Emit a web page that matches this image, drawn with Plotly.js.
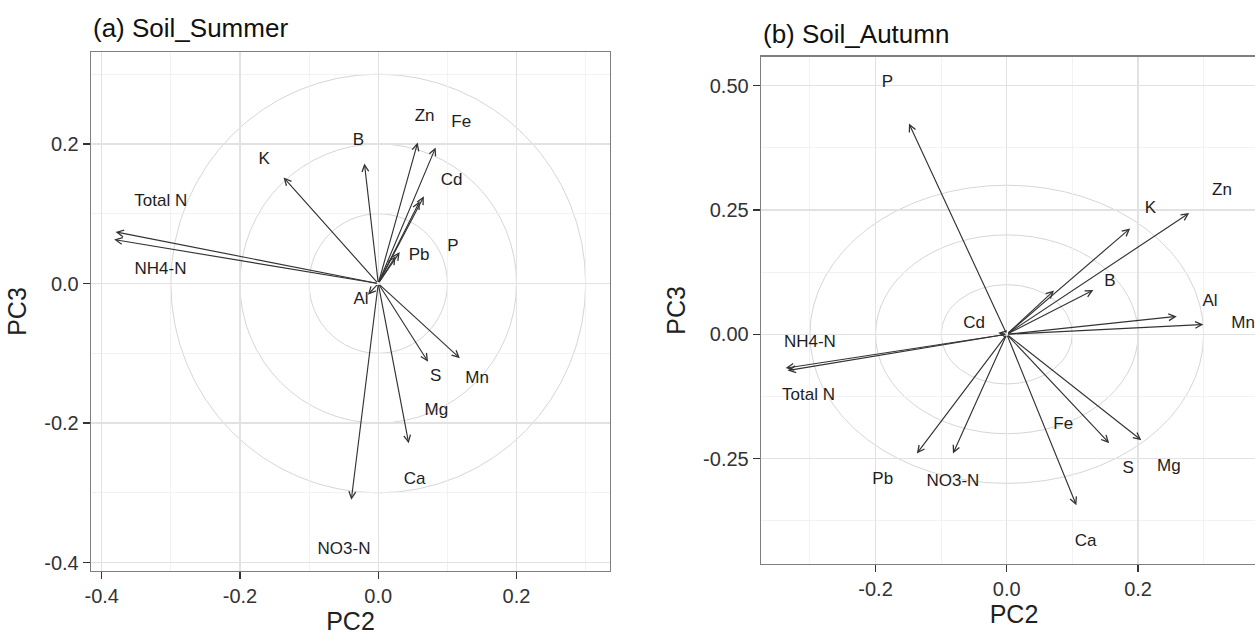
<!DOCTYPE html>
<html><head><meta charset="utf-8">
<script src="https://cdn.plot.ly/plotly-3.0.1.min.js"></script>
<style>html,body{margin:0;padding:0;overflow:hidden;background:#fff}#chart{width:1280px;height:636px}</style>
</head><body><div id="chart"></div>
<script>
// ---------- Panel (a) Soil_Summer ----------
const varsA  = ['Total N','NH4-N','K','B','Zn','Fe','Cd','P','Pb','Mg','Al','S','Mn','Ca','NO3-N'];
const pc2A   = [-0.380,-0.382,-0.137,-0.020,0.057,0.083,0.066,0.060,0.031,0.025,-0.015,0.072,0.118,0.044,-0.039];
const pc3A   = [0.074,0.063,0.152,0.172,0.202,0.195,0.125,0.118,0.045,0.039,-0.016,-0.112,-0.107,-0.229,-0.310];
const labXA  = [-0.3145,-0.315,-0.165,-0.0286,0.067,0.120,0.106,0.108,0.059,0.084,-0.025,0.083,0.143,0.0526,-0.0496];
const labYA  = [0.1175,0.0196,0.177,0.205,0.239,0.230,0.147,0.053,0.040,-0.183,-0.023,-0.133,-0.1365,-0.281,-0.3815];
const tickXA = [-0.4,-0.2,0,0.2];      const tickXAText = ['-0.4','-0.2','0.0','0.2'];
const tickYA = [-0.4,-0.2,0,0.2];      const tickYAText = ['-0.4','-0.2','0.0','0.2'];
const minorXA = [-0.3,-0.1,0.1,0.3];   const minorYA = [-0.3,-0.1,0.1,0.3];

// ---------- Panel (b) Soil_Autumn ----------
const varsB  = ['P','K','Zn','B','Fe','Al','Mn','NH4-N','Total N','Cd','Pb','NO3-N','Ca','S','Mg'];
const pc2B   = [-0.149,0.188,0.278,0.132,0.072,0.259,0.2995,-0.337,-0.334,-0.013,-0.137,-0.082,0.106,0.156,0.205];
const pc3B   = [0.424,0.213,0.244,0.089,0.088,0.036,0.0197,-0.068,-0.073,0.003,-0.240,-0.240,-0.344,-0.219,-0.213];
const labXB  = [-0.182,0.219,0.328,0.157,0.086,0.3097,0.360,-0.300,-0.302,-0.0498,-0.189,-0.082,0.120,0.185,0.247];
const labYB  = [0.507,0.252,0.288,0.106,-0.183,0.0647,0.0213,-0.018,-0.124,0.022,-0.2936,-0.297,-0.418,-0.2705,-0.266];
const tickXB = [-0.2,0,0.2];            const tickXBText = ['-0.2','0.0','0.2'];
const tickYB = [-0.25,0,0.25,0.5];      const tickYBText = ['-0.25','0.00','0.25','0.50'];
const minorXB = [-0.3,-0.1,0.1,0.3];    const minorYB = [-0.375,-0.125,0.125,0.375];

const ringRadii = [0.1,0.2,0.3];
const titles = ['(a) Soil_Summer','(b) Soil_Autumn'];

const FONT = '"Liberation Sans", Arial, sans-serif';
const W = 1280, H = 636;

function axis(domain, range, tv, tt, mv, titleText, standoff, anchor){
  return {
    domain: domain, range: range, anchor: anchor,
    tickmode: 'array', tickvals: tv, ticktext: tt,
    ticks: 'outside', ticklen: 7, tickwidth: 1.3, tickcolor: '#333',
    tickfont: {family: FONT, size: 20, color: '#333'},
    showline: true, linecolor: '#7f7f7f', linewidth: 1.3, mirror: true,
    showgrid: true, gridcolor: '#e2e2e2', gridwidth: 1.2,
    minor: {tickmode: 'array', tickvals: mv, showgrid: true, gridcolor: '#efefef', gridwidth: 0.8, ticks: ''},
    zeroline: false, fixedrange: true,
    title: {text: titleText, font: {family: FONT, size: 25, color: '#222'}, standoff: standoff}
  };
}

const traces = [
  {x: labXA, y: labYA, text: varsA, mode: 'text', type: 'scatter', xaxis: 'x', yaxis: 'y',
   textfont: {family: FONT, size: 17, color: '#1e1e1e'}, cliponaxis: false, hoverinfo: 'skip', showlegend: false},
  {x: labXB, y: labYB, text: varsB, mode: 'text', type: 'scatter', xaxis: 'x2', yaxis: 'y2',
   textfont: {family: FONT, size: 17, color: '#1e1e1e'}, cliponaxis: false, hoverinfo: 'skip', showlegend: false}
];

const annotations = [];
function arrows(px, py, xr, yr){
  for (let i = 0; i < px.length; i++){
    annotations.push({x: px[i], y: py[i], ax: 0, ay: 0, xref: xr, yref: yr, axref: xr, ayref: yr,
      text: '', showarrow: true, arrowhead: 5, arrowsize: 1.15, arrowwidth: 1.15, arrowcolor: '#333'});
  }
}
arrows(pc2A, pc3A, 'x', 'y');
arrows(pc2B, pc3B, 'x2', 'y2');

annotations.push({text: titles[0], xref: 'paper', yref: 'paper', x: 91/W, y: 1 - 28/H, xanchor: 'left', yanchor: 'middle',
  showarrow: false, font: {family: FONT, size: 26, color: '#111'}});
annotations.push({text: titles[1], xref: 'paper', yref: 'paper', x: 761/W, y: 1 - 34/H, xanchor: 'left', yanchor: 'middle',
  showarrow: false, font: {family: FONT, size: 26, color: '#111'}});

const shapes = [];
function rings(xr, yr){
  ringRadii.forEach(r => shapes.push({type: 'circle', xref: xr, yref: yr, x0: -r, y0: -r, x1: r, y1: r,
    line: {color: '#d6d6d6', width: 1}, layer: 'below'}));
}
rings('x', 'y'); rings('x2', 'y2');

const layout = {
  width: W, height: H, margin: {l: 0, r: 0, t: 0, b: 0},
  paper_bgcolor: '#fff', plot_bgcolor: '#fff', showlegend: false,
  font: {family: FONT},
  xaxis:  axis([91/W, 610/W], [-0.4155, 0.3352], tickXA, tickXAText, minorXA, 'PC2', 6, 'y'),
  yaxis:  axis([(H-571)/H, (H-52)/H], [-0.412, 0.3318], tickYA, tickYAText, minorYA, 'PC3', 10, 'x'),
  xaxis2: axis([761/W, 1267/W], [-0.3745, 0.3965], tickXB, tickXBText, minorXB, 'PC2', 6, 'y2'),
  yaxis2: axis([(H-564)/H, (H-56.7)/H], [-0.4622, 0.5586], tickYB, tickYBText, minorYB, 'PC3', 10, 'x2'),
  annotations: annotations, shapes: shapes
};

Plotly.newPlot('chart', traces, layout, {staticPlot: true, displayModeBar: false});
</script>
</body></html>
